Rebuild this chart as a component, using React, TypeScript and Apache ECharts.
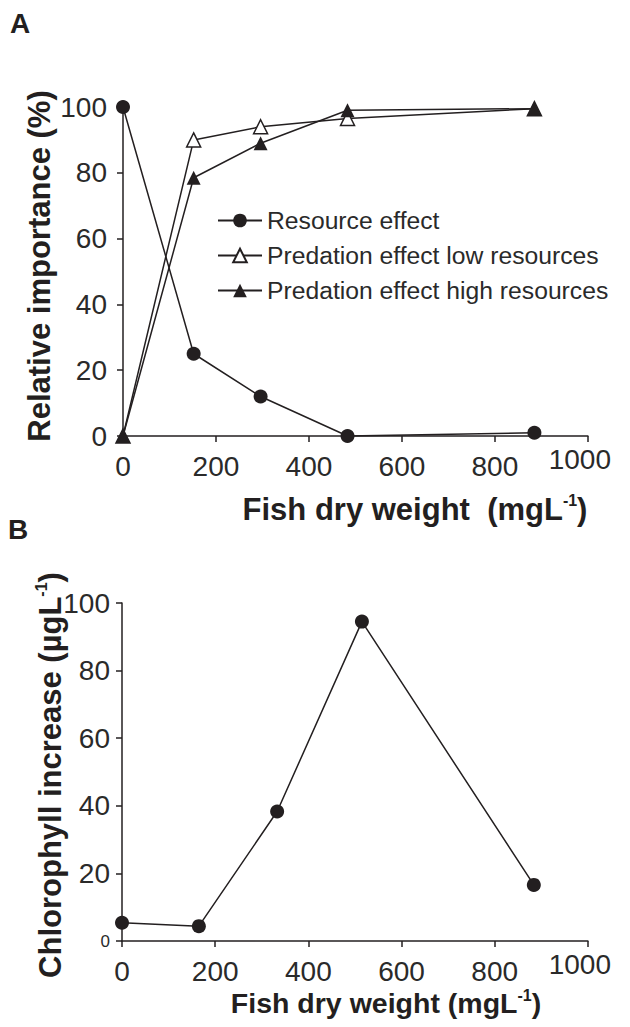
import React, { useEffect, useRef } from 'react';
import * as echarts from 'echarts';

const FONT = '"Liberation Sans", Arial, Helvetica, sans-serif';
const INK = '#231f20';

// Panel A
const fishWeightA = [0, 152, 296, 483, 885];
const resourceEffect = [100, 25, 12, 0, 1];
const predationLow = [0, 90, 94, 96.5, 99.5];
const predationHigh = [0, 78.5, 89, 99, 99.5];
const seriesNames = ['Resource effect', 'Predation effect low resources', 'Predation effect high resources'];

// Panel B
const fishWeightB = [0, 165, 333, 515, 884];
const chlorophyllIncrease = [5.4, 4.4, 38.3, 94.5, 16.6];

// Axes
const xMin = 0;
const xMax = 1000;
const xStep = 200;
const yMin = 0;
const yMax = 100;
const yStep = 20;

const pairs = (xs: number[], ys: number[]) => xs.map((x, i) => [x, ys[i]]);

function makeXAxis(gridIndex: number) {
  return {
    type: 'value',
    gridIndex,
    min: xMin,
    max: xMax,
    interval: xStep,
    axisLine: { show: true, onZero: false, lineStyle: { color: INK, width: 1.5 } },
    axisTick: { show: true, length: 6, lineStyle: { color: INK, width: 1.5 } },
    splitLine: { show: false },
    axisLabel: {
      margin: 16,
      fontSize: 28,
      color: '#2a2a2a',
      fontFamily: FONT,
      formatter: (v: number) => (v === 1000 ? '{k|1000}' : String(v)),
      rich: {
        k: { fontSize: 28, lineHeight: 14, padding: [0, 16, 0, 0], fontFamily: FONT, color: '#2a2a2a' },
      },
    },
  };
}

function makeYAxis(gridIndex: number, margin: number, smallZero: boolean) {
  return {
    type: 'value',
    gridIndex,
    min: yMin,
    max: yMax,
    interval: yStep,
    axisLine: { show: true, onZero: false, lineStyle: { color: INK, width: 1.5 } },
    axisTick: { show: true, length: 6, lineStyle: { color: INK, width: 1.5 } },
    splitLine: { show: false },
    axisLabel: {
      margin,
      fontSize: 28,
      color: '#2a2a2a',
      fontFamily: FONT,
      formatter: (v: number) => (smallZero && v === 0 ? '{s|0}' : String(v)),
      rich: { s: { fontSize: 17, fontFamily: FONT, color: '#2a2a2a' } },
    },
  };
}

function titleText(text: string, x: number, y: number, rotation = 0, size = 31) {
  const rich = {
    b: { fontSize: size, fontWeight: 'bold', fontFamily: FONT, fill: INK, color: INK, lineHeight: size + 3 },
    sup: { fontSize: 16, fontWeight: 'bold', fontFamily: FONT, fill: INK, color: INK, verticalAlign: 'top', lineHeight: 17 },
  };
  return {
    type: 'text',
    x,
    y,
    rotation,
    style: {
      text,
      rich,
      font: `bold ${size}px ${FONT}`,
      fill: INK,
      align: 'center',
      verticalAlign: 'middle',
    },
  };
}

export default function App() {
  const ref = useRef<HTMLDivElement>(null);

  useEffect(() => {
    if (!ref.current) return;
    const chart = echarts.init(ref.current, undefined, { renderer: 'svg' });
    const lineStyle = { color: INK, width: 1.5 };
    chart.setOption({
      animation: false,
      backgroundColor: '#ffffff',
      grid: [
        { left: 123, top: 107, width: 480, height: 329 },
        { left: 122, top: 603, width: 476, height: 338 },
      ],
      xAxis: [makeXAxis(0), makeXAxis(1)],
      yAxis: [makeYAxis(0, 16, false), makeYAxis(1, 12, true)],
      legend: {
        data: seriesNames,
        orient: 'vertical',
        left: 217,
        top: 208,
        padding: 0,
        itemWidth: 44,
        itemHeight: 17,
        itemGap: 10,
        textStyle: { fontSize: 24.7, lineHeight: 24, color: '#2a2a2a', fontFamily: FONT },
      },
      series: [
        {
          name: seriesNames[0],
          type: 'line',
          xAxisIndex: 0,
          yAxisIndex: 0,
          data: pairs(fishWeightA, resourceEffect),
          symbol: 'circle',
          symbolSize: 14,
          clip: false,
          lineStyle,
          itemStyle: { color: INK },
        },
        {
          name: seriesNames[1],
          type: 'line',
          xAxisIndex: 0,
          yAxisIndex: 0,
          data: pairs(fishWeightA, predationLow),
          symbol: 'triangle',
          symbolSize: 14,
          clip: false,
          lineStyle,
          itemStyle: { color: '#ffffff', borderColor: INK, borderWidth: 1.5 },
        },
        {
          name: seriesNames[2],
          type: 'line',
          xAxisIndex: 0,
          yAxisIndex: 0,
          data: pairs(fishWeightA, predationHigh),
          symbol: 'triangle',
          symbolSize: 14,
          clip: false,
          lineStyle,
          itemStyle: { color: INK },
        },
        {
          name: 'Chlorophyll increase',
          type: 'line',
          xAxisIndex: 1,
          yAxisIndex: 1,
          data: pairs(fishWeightB, chlorophyllIncrease),
          symbol: 'circle',
          symbolSize: 14,
          clip: false,
          lineStyle,
          itemStyle: { color: INK },
        },
      ],
      graphic: [
        { type: 'text', x: 20, y: 23, style: { text: 'A', font: `bold 28px ${FONT}`, fill: INK, align: 'center', verticalAlign: 'middle' } },
        { type: 'text', x: 18, y: 529, style: { text: 'B', font: `bold 28px ${FONT}`, fill: INK, align: 'center', verticalAlign: 'middle' } },
        titleText('{b|Relative importance (%)}', 39, 266, Math.PI / 2, 31),
        titleText('{b|Fish dry weight  (mgL}{sup|-1}{b|)}', 415, 509, 0, 31),
        titleText('{b|Chlorophyll increase (µgL}{sup|-1}{b|)}', 50, 775, Math.PI / 2, 31),
        titleText('{b|Fish dry weight (mgL}{sup|-1}{b|)}', 386, 1003, 0, 28.5),
      ],
    });
    return () => chart.dispose();
  }, []);

  return (
    <div
      ref={ref}
      style={{ position: 'fixed', left: 0, top: 0, width: 630, height: 1027, background: '#fff' }}
    />
  );
}
